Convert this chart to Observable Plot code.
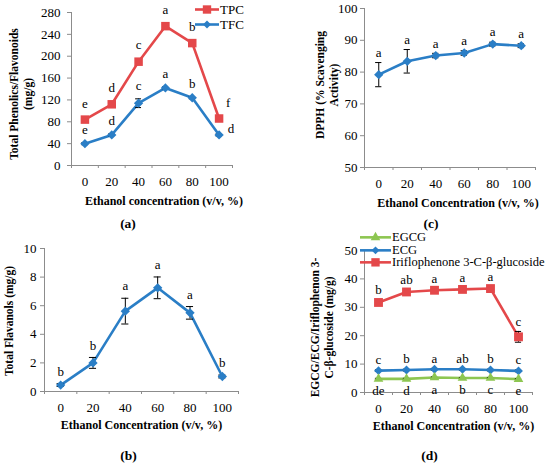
<!DOCTYPE html>
<html>
<head>
<meta charset="utf-8">
<script src="https://cdn.jsdelivr.net/npm/d3@7"></script>
<script src="https://cdn.jsdelivr.net/npm/@observablehq/plot@0.6"></script>
<style>
  body { margin: 0; background: #fff; }
  #fig { position: relative; width: 550px; height: 466px; font-family: "Liberation Serif", serif; }
  #fig svg text { font-family: "Liberation Serif", serif; }
  .panel { position: absolute; }
  .legend { position: absolute; color: #000; }
  .legend div { display: flex; align-items: center; white-space: nowrap; }
</style>
</head>
<body>
<div id="fig"></div>
<script>
// ethanol concentration categories (v/v, %)
const conc = [0, 20, 40, 60, 80, 100];

// (a) total phenolics / flavonoids, mg/g
const tpc = [84, 112, 190, 255, 224, 86];
const tpcErr = [2, 3, 3, 3, 3, 2];
const tpcLetters = ["e", "d", "c", "a", "b", "f"];
const tfc = [40, 56, 114, 142, 124, 56];
const tfcErr = [2, 2, 8, 2, 2, 2];
const tfcLetters = ["e", "d", "c", "a", "b", "d"];

// (b) total flavanols, mg/g
const flavanols = [0.45, 2.0, 5.62, 7.25, 5.5, 1.05];
const flavanolsErr = [0.1, 0.38, 0.9, 0.76, 0.44, 0.1];
const flavanolsLetters = ["b", "b", "a", "a", "a", "b"];

// (c) DPPH scavenging, %
const dpph = [79.2, 83.4, 85.2, 86.0, 88.8, 88.3];
const dpphErr = [3.8, 3.7, 0.7, 0.7, 0.6, 0.6];
const dpphLetters = ["a", "a", "a", "a", "a", "a"];

// (d) EGCG / ECG / iriflophenone 3-C-β-glucoside, mg/g
const egcg = [4.8, 4.8, 5.3, 5.1, 5.1, 4.7];
const egcgErr = [0.2, 0.2, 0.2, 0.2, 0.2, 0.2];
const egcgLetters = ["de", "d", "a", "b", "c", "e"];
const ecg = [7.7, 7.9, 8.2, 8.2, 7.9, 7.6];
const ecgErr = [0.3, 0.3, 0.3, 0.3, 0.3, 0.3];
const ecgLetters = ["c", "b", "a", "ab", "b", "c"];
const irif = [31.7, 35.4, 36.0, 36.3, 36.6, 19.6];
const irifErr = [0.8, 0.8, 0.6, 0.6, 0.6, 1.9];
const irifLetters = ["b", "ab", "a", "a", "a", "c"];

const RED = "#e4484a", BLUE = "#2a7ec6", GREEN = "#8dc651", AXIS = "#8c8c8c";
const FONT = '"Liberation Serif", serif';

const fig = document.getElementById("fig");
const rowsOf = (vals, errs, letters) => conc.map((x, i) => ({x, y: vals[i], e: errs[i], g: letters[i]}));
const bounds = conc.map(d => d - 10).concat(110);

function seriesMarks(s) {
  const letterY = s.below ? (d => d.y) : (d => d.y + d.e);
  return [
    Plot.line(s.rows, {x: "x", y: "y", stroke: s.color, strokeWidth: 2.6}),
    Plot.ruleX(s.rows, {x: "x", y1: d => d.y - d.e, y2: d => d.y + d.e, stroke: "#000", strokeWidth: 1}),
    Plot.ruleY(s.rows, {y: d => d.y + d.e, x1: d => d.x - 2.2, x2: d => d.x + 2.2, stroke: "#000"}),
    Plot.ruleY(s.rows, {y: d => d.y - d.e, x1: d => d.x - 2.2, x2: d => d.x + 2.2, stroke: "#000"}),
    Plot.dot(s.rows, {x: "x", y: "y", symbol: s.symbol, r: s.r, fill: s.color, stroke: "none"}),
    Plot.text(s.rows, {filter: d => d.x < 100, x: "x", y: letterY, text: "g", dy: s.dy, lineAnchor: "middle", fontSize: 13}),
    Plot.text(s.rows, {filter: d => d.x === 100, x: "x", y: letterY, text: "g", dy: s.lastDy ?? s.dy, dx: s.lastDx ?? 0, lineAnchor: "middle", fontSize: 13})
  ];
}

function panel(p) {
  const chart = Plot.plot({
    width: 275,
    height: 233,
    marginLeft: p.mL, marginRight: p.mR, marginTop: p.mT, marginBottom: p.mB,
    style: {background: "transparent", fontFamily: FONT, fontSize: "13px", color: "#000"},
    x: {domain: [-10, 110]},
    y: {domain: p.yDomain},
    marks: [
      Plot.frame({anchor: "left", stroke: AXIS}),
      Plot.frame({anchor: "bottom", stroke: AXIS}),
      Plot.axisY({ticks: p.yTicks, tickSize: 4, tickPadding: p.yPad, stroke: AXIS, fill: "#000", label: null}),
      Plot.axisX({ticks: bounds, tickSize: 3, tickFormat: () => "", stroke: AXIS, label: null}),
      Plot.axisX({ticks: conc, tickSize: 0, tickPadding: 11, fill: "#000", label: null}),
      ...p.series.flatMap(seriesMarks),
      Plot.text([p.yLabel], {text: d => d, frameAnchor: "left", rotate: -90, textAnchor: "middle", lineAnchor: "middle",
        lineHeight: 1.2, dx: p.yLabelDx, dy: p.yLabelDy, fontWeight: "bold", fontSize: 11.5}),
      Plot.text([p.xLabel], {text: d => d, frameAnchor: "bottom", textAnchor: "middle", lineAnchor: "middle",
        dx: p.xLabelDx, dy: p.xLabelDy, fontWeight: "bold", fontSize: 12}),
      Plot.text([p.caption], {text: d => d, frameAnchor: "bottom", textAnchor: "middle", lineAnchor: "middle",
        dx: p.captionDx, dy: p.captionDy, fontWeight: "bold", fontSize: 13.5})
    ]
  });
  const div = document.createElement("div");
  div.className = "panel";
  div.style.left = p.left + "px";
  div.style.top = p.top + "px";
  div.append(chart);
  fig.append(div);
}

function legend(left, top, rowH, sw, fontSize, items) {
  const box = document.createElement("div");
  box.className = "legend";
  box.style.left = left + "px";
  box.style.top = top + "px";
  box.style.fontSize = fontSize + "px";
  for (const it of items) {
    const row = document.createElement("div");
    row.style.height = rowH + "px";
    const path = d3.symbol(it.symbol, it.size)();
    row.innerHTML = `<svg width="${sw}" height="${rowH}" style="margin-right:1px">
      <line x1="0" x2="${sw}" y1="${rowH / 2}" y2="${rowH / 2}" stroke="${it.color}" stroke-width="2.6"/>
      <path d="${path}" transform="translate(${sw / 2},${rowH / 2})" fill="${it.color}"/></svg><span>${it.label}</span>`;
    box.append(row);
  }
  fig.append(box);
}

panel({
  left: 0, top: 0, mL: 71, mR: 43, mT: 12, mB: 68,
  yDomain: [0, 280], yTicks: d3.range(0, 281, 40), yPad: 7,
  series: [
    {rows: rowsOf(tpc, tpcErr, tpcLetters), color: RED, symbol: "square", r: 4.8, dy: -15, lastDx: 9},
    {rows: rowsOf(tfc, tfcErr, tfcLetters), color: BLUE, symbol: d3.symbolDiamond2, r: 4.2, dy: -13, lastDx: 12, lastDy: -5}
  ],
  yLabel: "Total Phenolics/Flavonoids\n(mg/g)", yLabelDx: -51, yLabelDy: 5,
  xLabel: "Ethanol concentration (v/v, %)", xLabelDx: 12, xLabelDy: 36,
  caption: "(a)", captionDx: -24, captionDy: 58
});

panel({
  left: 275, top: 0, mL: 89, mR: 15, mT: 8, mB: 66,
  yDomain: [50, 100], yTicks: d3.range(50, 101, 10), yPad: 3,
  series: [
    {rows: rowsOf(dpph, dpphErr, dpphLetters), color: BLUE, symbol: d3.symbolDiamond2, r: 4.2, dy: -10}
  ],
  yLabel: "DPPH (% Scavenging\nActivity)", yLabelDx: -38, yLabelDy: -3,
  xLabel: "Ethanol Concentration (v/v, %)", xLabelDx: 8, xLabelDy: 36,
  caption: "(c)", captionDx: -19, captionDy: 56
});

panel({
  left: 0, top: 233, mL: 44, mR: 37, mT: 15, mB: 75,
  yDomain: [0, 10], yTicks: d3.range(0, 11, 2), yPad: 4,
  series: [
    {rows: rowsOf(flavanols, flavanolsErr, flavanolsLetters), color: BLUE, symbol: d3.symbolDiamond2, r: 4.2, dy: -12}
  ],
  yLabel: "Total Flavanols (mg/g)", yLabelDx: -36, yLabelDy: 1,
  xLabel: "Ethanol Concentration (v/v, %)", xLabelDx: 0, xLabelDy: 34,
  caption: "(b)", captionDx: -13, captionDy: 64
});

panel({
  left: 275, top: 233, mL: 89, mR: 18, mT: 17, mB: 74,
  yDomain: [0, 50], yTicks: d3.range(0, 51, 10), yPad: 3,
  series: [
    {rows: rowsOf(irif, irifErr, irifLetters), color: RED, symbol: "square", r: 5, dy: -10},
    {rows: rowsOf(ecg, ecgErr, ecgLetters), color: BLUE, symbol: d3.symbolDiamond2, r: 4, dy: -10},
    {rows: rowsOf(egcg, egcgErr, egcgLetters), color: GREEN, symbol: "triangle", r: 3.6, dy: 12, below: true}
  ],
  yLabel: "EGCG/ECG/Iriflophenon 3-\nC-β-glucoside (mg/g)", yLabelDx: -43, yLabelDy: 6,
  xLabel: "Ethanol Concentration (v/v, %)", xLabelDx: 5, xLabelDy: 34,
  caption: "(d)", captionDx: -19, captionDy: 63
});

legend(195, 2, 15, 24, 13, [
  {label: "TPC", color: RED, symbol: d3.symbolSquare, size: 70},
  {label: "TFC", color: BLUE, symbol: d3.symbolDiamond2, size: 40}
]);

legend(360, 231, 12.7, 31, 12.5, [
  {label: "EGCG", color: GREEN, symbol: d3.symbolTriangle, size: 40},
  {label: "ECG", color: BLUE, symbol: d3.symbolDiamond2, size: 40},
  {label: "Iriflophenone 3-C-β-glucoside", color: RED, symbol: d3.symbolSquare, size: 70}
]);
</script>
</body>
</html>
